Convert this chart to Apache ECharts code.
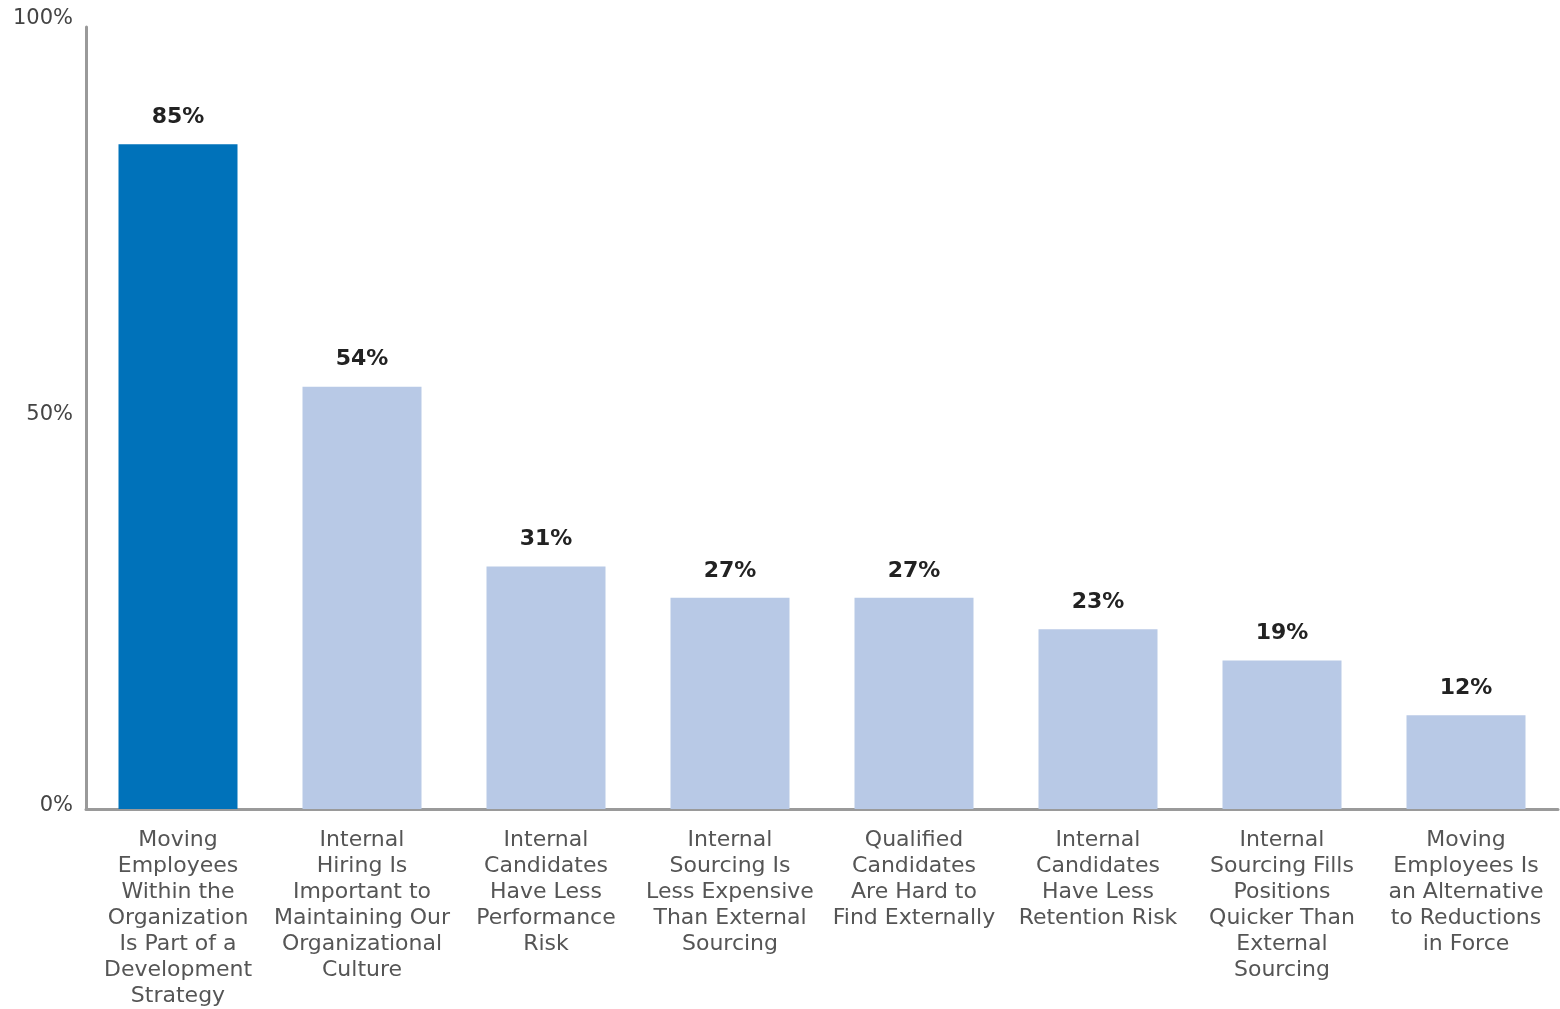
<!DOCTYPE html>
<html>
<head>
<meta charset="utf-8">
<script src="https://cdn.jsdelivr.net/npm/echarts@6/dist/echarts.min.js"></script>
<style>
html,body{margin:0;padding:0;background:#fff;}
#chart{width:1560px;height:1009px;}
</style>
</head>
<body>
<div id="chart"></div>
<script>
const categories = [
  "Moving\nEmployees\nWithin the\nOrganization\nIs Part of a\nDevelopment\nStrategy",
  "Internal\nHiring Is\nImportant to\nMaintaining Our\nOrganizational\nCulture",
  "Internal\nCandidates\nHave Less\nPerformance\nRisk",
  "Internal\nSourcing Is\nLess Expensive\nThan External\nSourcing",
  "Qualified\nCandidates\nAre Hard to\nFind Externally",
  "Internal\nCandidates\nHave Less\nRetention Risk",
  "Internal\nSourcing Fills\nPositions\nQuicker Than\nExternal\nSourcing",
  "Moving\nEmployees Is\nan Alternative\nto Reductions\nin Force"
];
const values = [85, 54, 31, 27, 27, 23, 19, 12];
const yTicks = [0, 50, 100];
const highlightColor = "#0072BA";
const baseColor = "#B8C9E6";

const chart = echarts.init(document.getElementById('chart'), null, {renderer: 'canvas'});
const FONT = "DejaVu Sans";
chart.setOption({
  animation: false,
  grid: {left: 86, right: 2, top: 27, bottom: 198, containLabel: false},
  xAxis: {
    type: 'category',
    data: categories,
    axisLine: {show: true, lineStyle: {color: '#9a9a9a', width: 3}},
    axisTick: {show: false},
    axisLabel: {
      interval: 0,
      margin: 18,
      color: '#555',
      fontFamily: FONT,
      fontSize: 22,
      lineHeight: 26
    }
  },
  yAxis: {
    type: 'value',
    min: 0,
    max: 100,
    interval: 50,
    axisLine: {show: true, lineStyle: {color: '#9a9a9a', width: 3}},
    axisTick: {show: false},
    splitLine: {show: false},
    axisLabel: {
      margin: 13,
      color: '#444',
      fontFamily: FONT,
      fontSize: 21,
      formatter: v => yTicks.includes(v) ? (v === 100 ? '{t|' + v + '%}' : '{n|' + v + '%}') : '',
      rich: {
        t: {fontFamily: FONT, fontSize: 21, color: '#444', padding: [0, 0, 16, 0]},
        n: {fontFamily: FONT, fontSize: 21, color: '#444', padding: [0, 0, 6, 0]}
      }
    }
  },
  series: [{
    type: 'bar',
    barWidth: 119,
    data: values.map((v, i) => ({value: v, itemStyle: {color: i === 0 ? highlightColor : baseColor}})),
    label: {
      show: true,
      position: 'top',
      distance: 16,
      color: '#222',
      fontFamily: FONT,
      fontWeight: 'bold',
      fontSize: 22,
      formatter: p => p.value + '%'
    }
  }]
});
</script>
</body>
</html>
